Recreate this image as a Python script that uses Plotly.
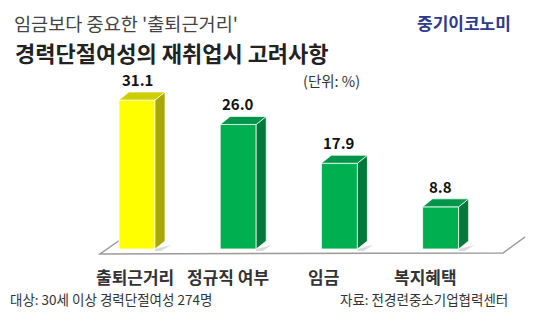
import plotly.graph_objects as go

# ---- data ----
categories = ["출퇴근거리", "정규직 여부", "임금", "복지혜택"]
values = [31.1, 26.0, 17.9, 8.8]
value_labels = ["31.1", "26.0", "17.9", "8.8"]
front_colors = ["#FFFF00", "#00B050", "#00B050", "#00B050"]
top_colors = ["#CDCD00", "#00964A", "#00964A", "#00964A"]
side_colors = ["#A8A800", "#00793A", "#00793A", "#00793A"]
label_shift_px = [-2, -10, -16, -15]

title1 = "임금보다 중요한 '출퇴근거리'"
title2 = "경력단절여성의 재취업시 고려사항"
brand = "중기이코노미"
unit = "(단위: %)"
note_left = "대상: 30세 이상 경력단절여성 274명"
note_right = "자료: 전경련중소기업협력센터"

# ---- geometry (pixel -> axis) ----
W, H = 546, 322
PX_X = 101.2           # pixels per category
X0_PX = 137            # pixel of first bar centre
PX_Y = 4.79            # pixels per value unit
Y0_PX = 249            # pixel of value 0
xr = [-X0_PX / PX_X, (W - X0_PX) / PX_X]
yr = [-(H - Y0_PX) / PX_Y, Y0_PX / PX_Y]

bw = 36 / PX_X
dx = 10 / PX_X
dy = 8 / PX_Y

FONT = "Noto Sans CJK KR"
xs = list(range(len(values)))

fig = go.Figure()

# bar base shadows
for i, v in enumerate(values):
    r = i + bw / 2
    fig.add_trace(go.Scatter(
        x=[r, r + dx * 1.6, r + dx * 0.6, r], y=[0, dy * 0.5, -dy * 0.25, -dy * 0.25],
        fill="toself", mode="lines", line=dict(width=0),
        fillcolor="rgba(150,150,150,0.35)", hoverinfo="skip", showlegend=False))

# side faces
for i, v in enumerate(values):
    r = i + bw / 2
    fig.add_trace(go.Scatter(
        x=[r, r + dx, r + dx, r, r], y=[0, dy, v + dy, v, 0],
        fill="toself", mode="lines", line=dict(color="rgba(255,255,255,0.7)", width=1),
        fillcolor=side_colors[i], hoverinfo="skip", showlegend=False))

# top faces
for i, v in enumerate(values):
    l, r = i - bw / 2, i + bw / 2
    fig.add_trace(go.Scatter(
        x=[l, l + dx, r + dx, r, l], y=[v, v + dy, v + dy, v, v],
        fill="toself", mode="lines", line=dict(color="rgba(255,255,255,0.7)", width=1),
        fillcolor=top_colors[i], hoverinfo="skip", showlegend=False))

# front faces
fig.add_trace(go.Bar(
    x=xs, y=values, width=bw,
    marker=dict(color=front_colors, line=dict(color="rgba(255,255,255,0.8)", width=1)),
    hoverinfo="skip", showlegend=False))

# floor outline (decoration)
floor_path = "M 120 240 L 100 254 L 503 253 L 525 237"
fig.add_shape(type="path", xref="paper", yref="paper",
              path=" ".join(
                  (f"{float(t)/W:.5f}" if k % 3 == 1 else f"{1-float(t)/H:.5f}") if t not in ("M", "L") else t
                  for k, t in enumerate(floor_path.split())),
              line=dict(color="#9a9a9a", width=1.5), layer="below")

ann = []
for i, v in enumerate(values):
    ann.append(dict(x=i, y=v, xref="x", yref="y", text=f"<b>{value_labels[i]}</b>",
                    showarrow=False, yanchor="bottom", yshift=8, xshift=0,
                    font=dict(family=FONT, size=15, color="#111")))
    ann.append(dict(x=i, y=0, xref="x", yref="y", text=f"<b>{categories[i]}</b>",
                    showarrow=False, yanchor="middle", yshift=-27, xshift=label_shift_px[i],
                    font=dict(family=FONT, size=17, color="#333")))

def pann(text, x, y, size, color, xanchor="left", bold=False):
    return dict(x=x / W, y=1 - y / H, xref="paper", yref="paper",
                text=f"<b>{text}</b>" if bold else text, showarrow=False,
                xanchor=xanchor, yanchor="middle",
                font=dict(family=FONT, size=size, color=color))

ann += [
    pann(title1, 12, 22, 18.6, "#444"),
    pann(title2, 13, 52, 22, "#222", bold=True),
    pann(brand, 513, 23, 17, "#2E3A8C", xanchor="right", bold=True),
    pann(unit, 301, 81, 14.5, "#333"),
    pann(note_left, 8, 299, 13.5, "#333"),
    pann(note_right, 510, 299, 13.5, "#333", xanchor="right"),
]

fig.update_layout(
    width=W, height=H,
    margin=dict(l=0, r=0, t=0, b=0),
    paper_bgcolor="white", plot_bgcolor="rgba(0,0,0,0)",
    xaxis=dict(range=xr, visible=False, fixedrange=True),
    yaxis=dict(range=yr, visible=False, fixedrange=True),
    annotations=ann, barmode="overlay",
)

fig.write_html("out.html")
